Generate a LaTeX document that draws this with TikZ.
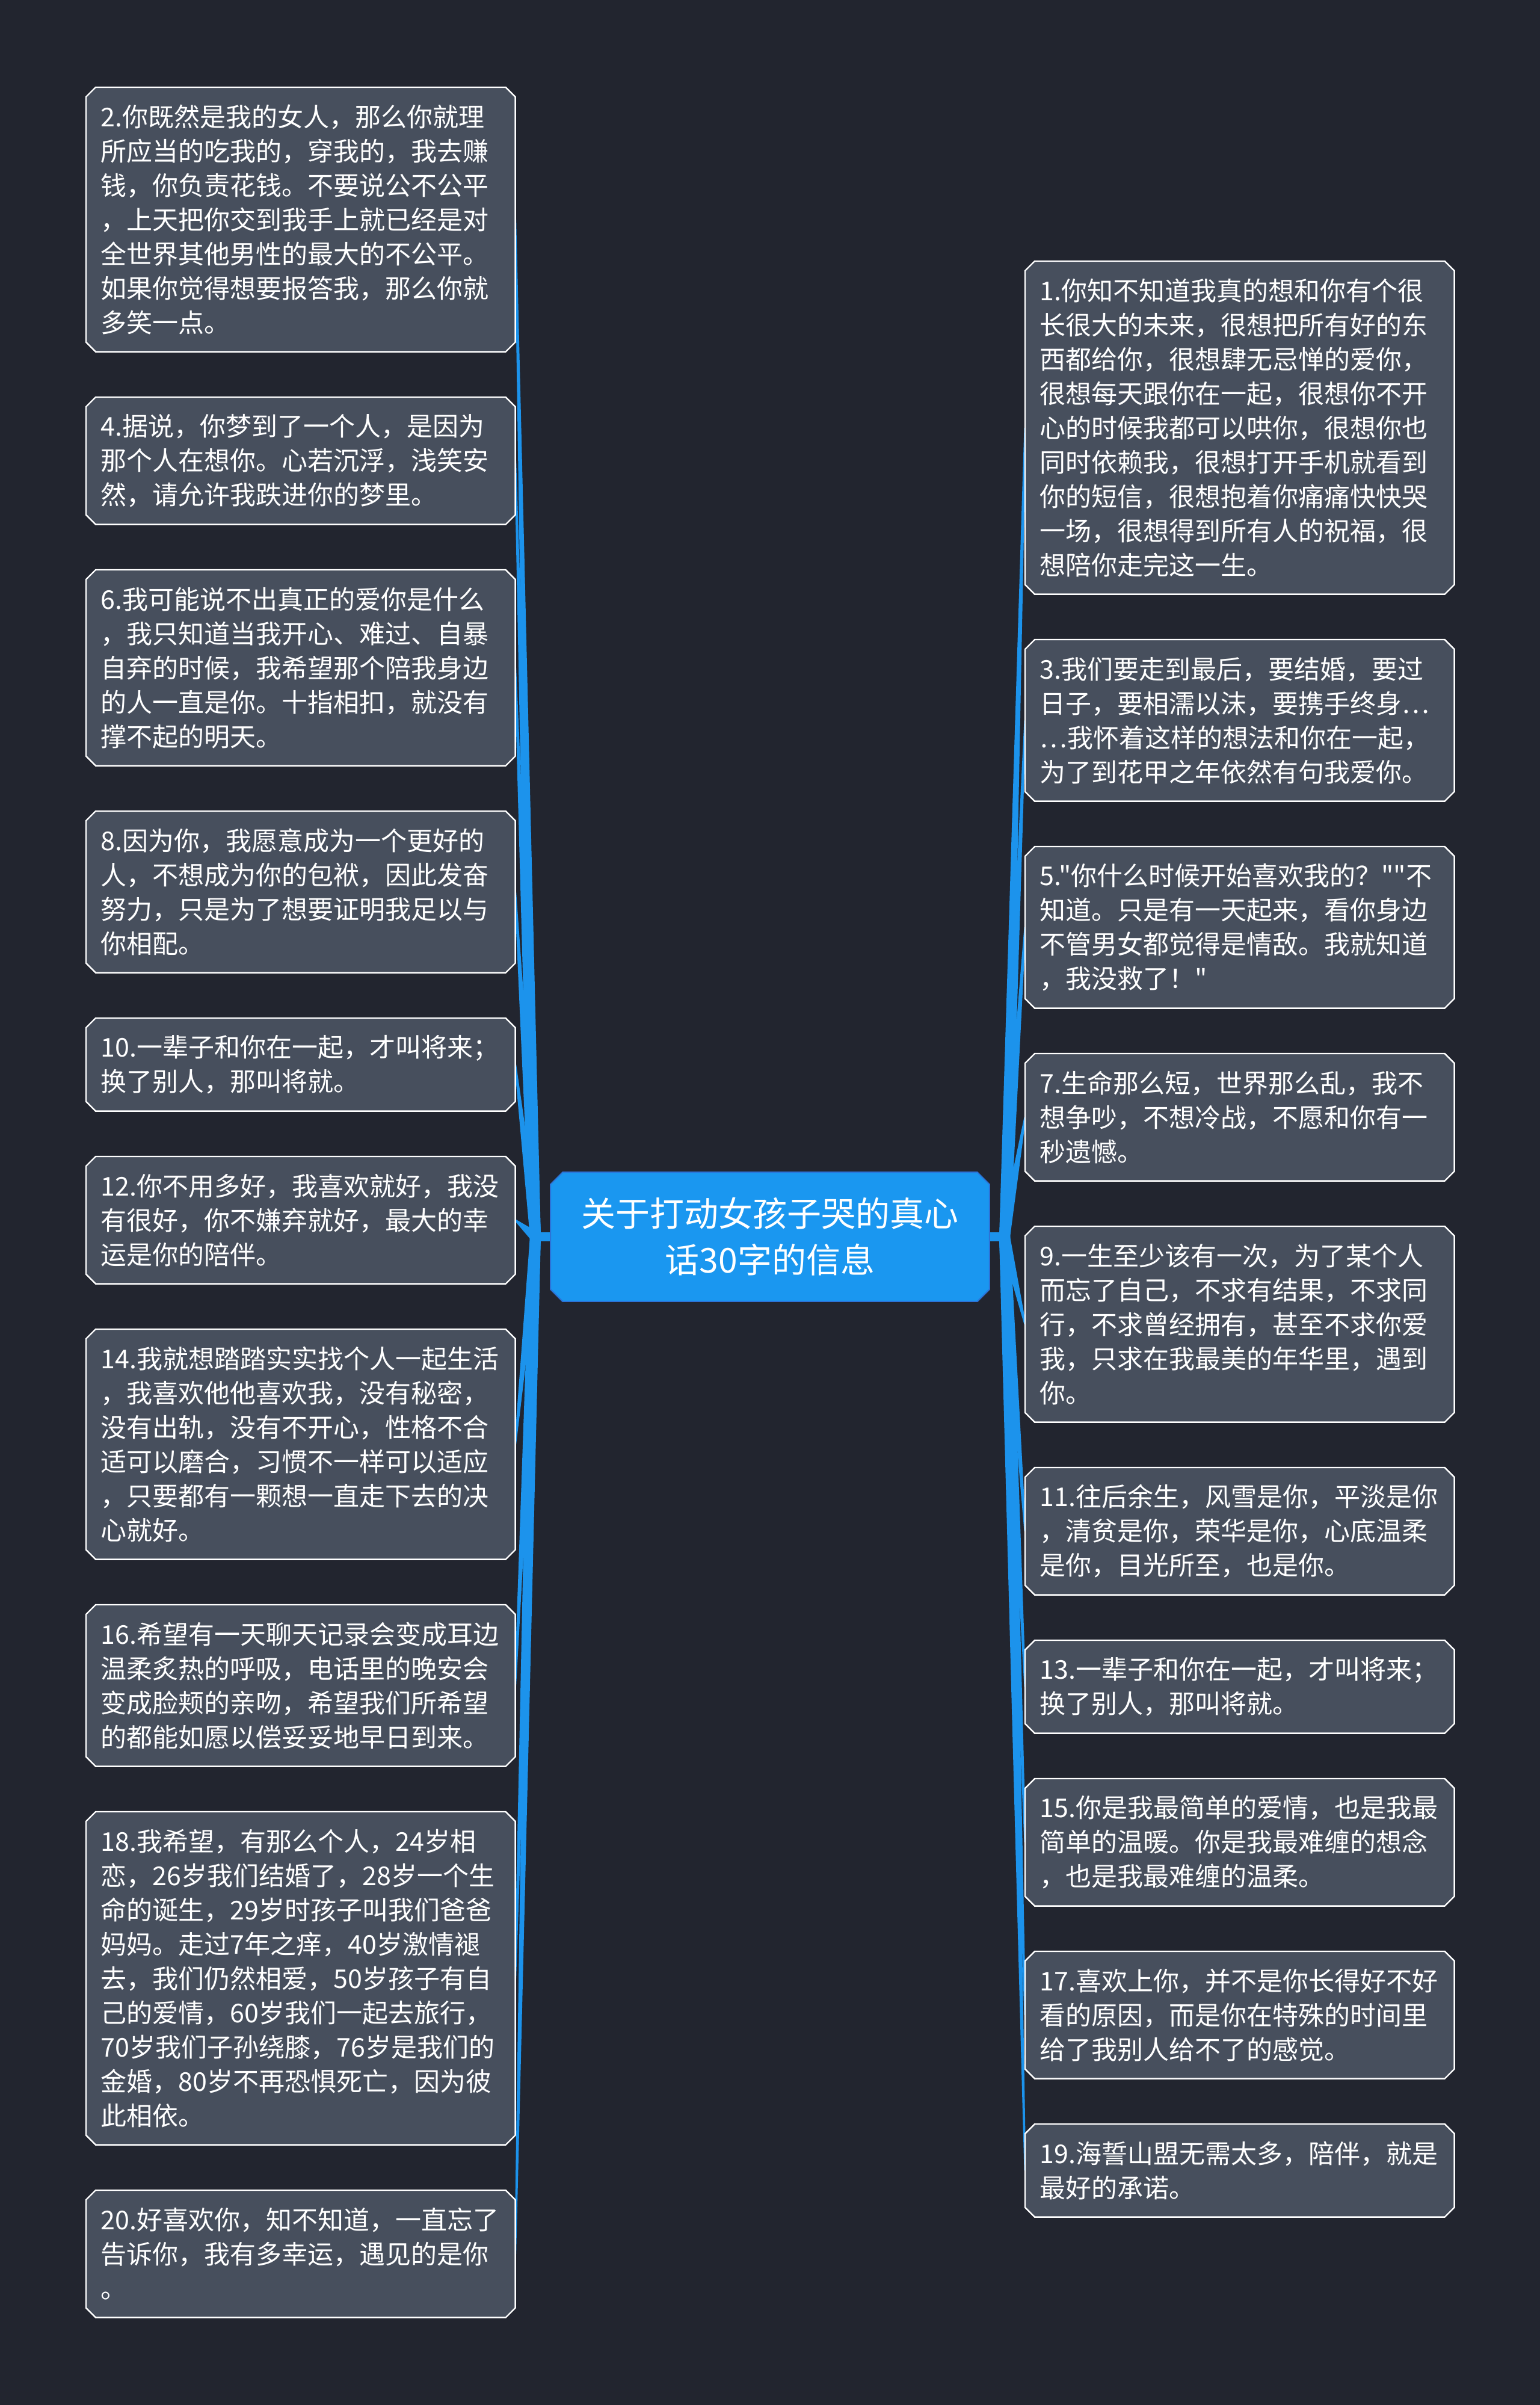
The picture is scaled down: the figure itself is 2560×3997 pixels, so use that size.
\documentclass[tikz,border=0pt]{standalone}
\usepackage{fontspec}
\newfontfamily\cjk{Noto Sans CJK SC}
\usetikzlibrary{calc}
\pgfdeclarelayer{bglayer}
\pgfdeclarelayer{connlayer}
\pgfdeclarelayer{boxlayer}
\pgfsetlayers{bglayer,connlayer,boxlayer,main}
\definecolor{bgc}{HTML}{22252F}
\definecolor{boxc}{HTML}{474F5D}
\definecolor{rootc}{HTML}{1A97F0}
\definecolor{rootb}{HTML}{2C73D8}
\definecolor{connc}{HTML}{1C93EC}
\tikzset{
  leaf/.style={rectangle, inner xsep=6pt, inner ysep=0pt, text width=166pt,
    minimum width=178pt, align=left, text=white, anchor=north west,
    font=\cjk\fontsize{10.75pt}{14.25pt}\selectfont},
  root/.style={rectangle, inner sep=0pt, minimum width=182pt, minimum height=53.25pt,
    align=center, text=white, font=\cjk\fontsize{14.25pt}{19.25pt}\selectfont},
  leafline/.style={fill=boxc, draw=white, line width=0.6pt},
  rootline/.style={fill=rootc, draw=rootb, line width=0.5pt},
  stub/.style={draw=connc, line width=3.75pt}
}
\newcommand\chamfbox[3]{%
  \begin{pgfonlayer}{boxlayer}
  \filldraw[#3] ([xshift=#2]#1.north west) -- ([xshift=-#2]#1.north east)
    -- ([yshift=-#2]#1.north east) -- ([yshift=#2]#1.south east)
    -- ([xshift=-#2]#1.south east) -- ([xshift=#2]#1.south west)
    -- ([yshift=#2]#1.south west) -- ([yshift=-#2]#1.north west) -- cycle;
  \end{pgfonlayer}}
\newcommand\wedgeto[2]{%
  \begin{pgfonlayer}{connlayer}
  \fill[connc] ($(#1)!2.25pt!90:(#2)$) -- ($(#2)!0.375pt!-90:(#1)$)
    -- ($(#2)!0.375pt!90:(#1)$) -- ($(#1)!2.25pt!-90:(#2)$) -- cycle;
  \end{pgfonlayer}}
\begin{document}
\begin{tikzpicture}[x=0.25pt,y=-0.25pt]
\useasboundingbox (0,0) rectangle (2560,3997);
\begin{pgfonlayer}{bglayer}
\fill[bgc] (0,0) rectangle (2560,3997);
\end{pgfonlayer}

\node[root] (C) at (1280,2055.5) {关于打动女孩子哭的真心\\话30字的信息};
\coordinate (JL) at (890,2055.5);
\coordinate (JR) at (1670,2055.5);

% left column
\node[leaf, minimum height=109.5pt] (L2) at (143,145) {2.你既然是我的女人，那么你就理\\所应当的吃我的，穿我的，我去赚\\钱，你负责花钱。不要说公不公平\\，上天把你交到我手上就已经是对\\全世界其他男性的最大的不公平。\\如果你觉得想要报答我，那么你就\\多笑一点。};
\node[leaf, minimum height=52.5pt] (L4) at (143,660) {4.据说，你梦到了一个人，是因为\\那个人在想你。心若沉浮，浅笑安\\然，请允许我跌进你的梦里。};
\node[leaf, minimum height=81pt] (L6) at (143,947) {6.我可能说不出真正的爱你是什么\\，我只知道当我开心、难过、自暴\\自弃的时候，我希望那个陪我身边\\的人一直是你。十指相扣，就没有\\撑不起的明天。};
\node[leaf, minimum height=66.75pt] (L8) at (143,1348) {8.因为你，我愿意成为一个更好的\\人，不想成为你的包袱，因此发奋\\努力，只是为了想要证明我足以与\\你相配。};
\node[leaf, minimum height=38.25pt] (L10) at (143,1692) {10.一辈子和你在一起，才叫将来；\\换了别人，那叫将就。};
\node[leaf, minimum height=52.5pt] (L12) at (143,1922) {12.你不用多好，我喜欢就好，我没\\有很好，你不嫌弃就好，最大的幸\\运是你的陪伴。};
\node[leaf, minimum height=95.25pt] (L14) at (143,2209) {14.我就想踏踏实实找个人一起生活\\，我喜欢他他喜欢我，没有秘密，\\没有出轨，没有不开心，性格不合\\适可以磨合，习惯不一样可以适应\\，只要都有一颗想一直走下去的决\\心就好。};
\node[leaf, minimum height=66.75pt] (L16) at (143,2667) {16.希望有一天聊天记录会变成耳边\\温柔炙热的呼吸，电话里的晚安会\\变成脸颊的亲吻，希望我们所希望\\的都能如愿以偿妥妥地早日到来。};
\node[leaf, minimum height=138pt] (L18) at (143,3011) {18.我希望，有那么个人，24岁相\\恋，26岁我们结婚了，28岁一个生\\命的诞生，29岁时孩子叫我们爸爸\\妈妈。走过7年之痒，40岁激情褪\\去，我们仍然相爱，50岁孩子有自\\己的爱情，60岁我们一起去旅行，\\70岁我们子孙绕膝，76岁是我们的\\金婚，80岁不再恐惧死亡，因为彼\\此相依。};
\node[leaf, minimum height=52.5pt] (L20) at (143,3640) {20.好喜欢你，知不知道，一直忘了\\告诉你，我有多幸运，遇见的是你\\。};

% right column
\node[leaf, minimum height=138pt] (R1) at (1704,434) {1.你知不知道我真的想和你有个很\\长很大的未来，很想把所有好的东\\西都给你，很想肆无忌惮的爱你，\\很想每天跟你在一起，很想你不开\\心的时候我都可以哄你，很想你也\\同时依赖我，很想打开手机就看到\\你的短信，很想抱着你痛痛快快哭\\一场，很想得到所有人的祝福，很\\想陪你走完这一生。};
\node[leaf, minimum height=66.75pt] (R3) at (1704,1063) {3.我们要走到最后，要结婚，要过\\日子，要相濡以沫，要携手终身…\\…我怀着这样的想法和你在一起，\\为了到花甲之年依然有句我爱你。};
\node[leaf, minimum height=66.75pt] (R5) at (1704,1407) {5."你什么时候开始喜欢我的？""不\\知道。只是有一天起来，看你身边\\不管男女都觉得是情敌。我就知道\\，我没救了！"};
\node[leaf, minimum height=52.5pt] (R7) at (1704,1751) {7.生命那么短，世界那么乱，我不\\想争吵，不想冷战，不愿和你有一\\秒遗憾。};
\node[leaf, minimum height=81pt] (R9) at (1704,2038) {9.一生至少该有一次，为了某个人\\而忘了自己，不求有结果，不求同\\行，不求曾经拥有，甚至不求你爱\\我，只求在我最美的年华里，遇到\\你。};
\node[leaf, minimum height=52.5pt] (R11) at (1704,2439) {11.往后余生，风雪是你，平淡是你\\，清贫是你，荣华是你，心底温柔\\是你，目光所至，也是你。};
\node[leaf, minimum height=38.25pt] (R13) at (1704,2726) {13.一辈子和你在一起，才叫将来；\\换了别人，那叫将就。};
\node[leaf, minimum height=52.5pt] (R15) at (1704,2956) {15.你是我最简单的爱情，也是我最\\简单的温暖。你是我最难缠的想念\\，也是我最难缠的温柔。};
\node[leaf, minimum height=52.5pt] (R17) at (1704,3243) {17.喜欢上你，并不是你长得好不好\\看的原因，而是你在特殊的时间里\\给了我别人给不了的感觉。};
\node[leaf, minimum height=38.25pt] (R19) at (1704,3530) {19.海誓山盟无需太多，陪伴，就是\\最好的承诺。};

% boxes
\chamfbox{C}{5pt}{rootline}
\foreach \n in {L2,L4,L6,L8,L10,L12,L14,L16,L18,L20,R1,R3,R5,R7,R9,R11,R13,R15,R17,R19}{\chamfbox{\n}{4pt}{leafline}}

% connectors
\begin{pgfonlayer}{connlayer}
\draw[stub] (C.west) -- (JL);
\draw[stub] (C.east) -- (JR);
\end{pgfonlayer}
\foreach \n in {L2,L4,L6,L8,L10,L12,L14,L16,L18,L20}{\wedgeto{JL}{\n.east}}
\foreach \n in {R1,R3,R5,R7,R9,R11,R13,R15,R17,R19}{\wedgeto{JR}{\n.west}}
\end{tikzpicture}
\end{document}
